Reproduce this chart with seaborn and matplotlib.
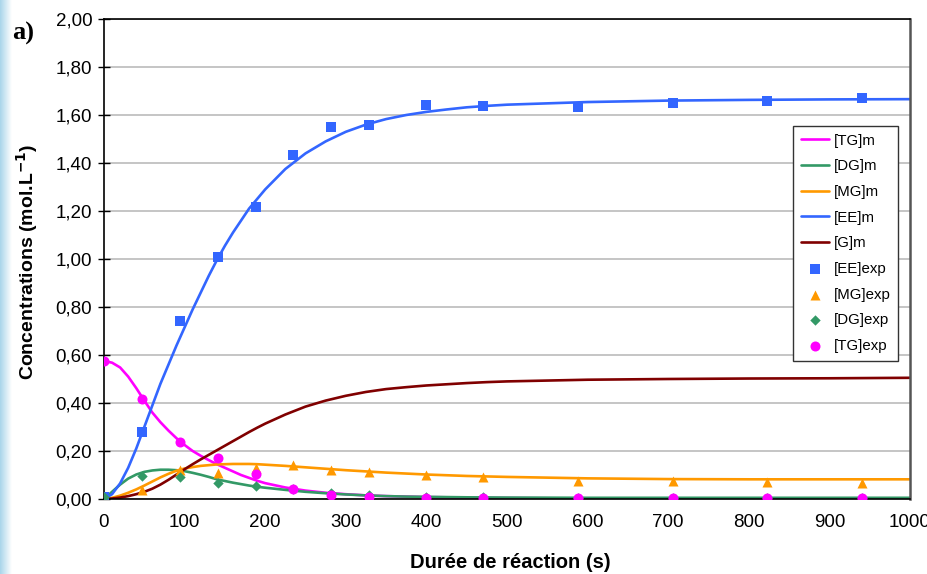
import numpy as np
import pandas as pd
import matplotlib
matplotlib.use("Agg")
import matplotlib.pyplot as plt
import seaborn as sns
from matplotlib.ticker import FuncFormatter, MultipleLocator

# model curves
t_model = [0, 10, 20, 30, 40, 50, 60, 70, 80, 90, 100, 110, 120, 130, 140, 150, 160, 170,
           180, 190, 200, 225, 250, 275, 300, 325, 350, 375, 400, 425, 450, 475, 500,
           600, 700, 800, 900, 1000]
tg_model = [0.575, 0.568, 0.548, 0.51, 0.462, 0.41, 0.36, 0.32, 0.285, 0.253, 0.225, 0.20,
            0.18, 0.162, 0.145, 0.13, 0.115, 0.10, 0.088, 0.076, 0.066, 0.048, 0.035,
            0.026, 0.02, 0.015, 0.012, 0.01, 0.008, 0.007, 0.005, 0.0045, 0.004,
            0.002, 0.001, 0.001, 0.0, 0.0]
dg_model = [0.0, 0.03, 0.06, 0.085, 0.102, 0.113, 0.119, 0.122, 0.122, 0.12, 0.116, 0.109,
            0.101, 0.092, 0.082, 0.075, 0.068, 0.062, 0.056, 0.051, 0.047, 0.038, 0.03,
            0.024, 0.019, 0.015, 0.012, 0.01, 0.009, 0.008, 0.007, 0.0065, 0.006,
            0.005, 0.005, 0.005, 0.005, 0.005]
mg_model = [0.0, 0.005, 0.014, 0.026, 0.04, 0.056, 0.073, 0.09, 0.105, 0.118, 0.127, 0.133,
            0.138, 0.141, 0.144, 0.145, 0.146, 0.146, 0.146, 0.145, 0.143, 0.138, 0.132,
            0.126, 0.12, 0.115, 0.11, 0.106, 0.102, 0.099, 0.096, 0.094, 0.092,
            0.086, 0.083, 0.082, 0.082, 0.082]
ee_model = [0.0, 0.02, 0.065, 0.13, 0.21, 0.30, 0.39, 0.48, 0.56, 0.64, 0.715, 0.79,
            0.86, 0.93, 0.995, 1.055, 1.11, 1.16, 1.21, 1.25, 1.29, 1.375, 1.44,
            1.49, 1.53, 1.56, 1.583, 1.60, 1.613, 1.623, 1.632, 1.638, 1.643,
            1.654, 1.66, 1.663, 1.665, 1.666]
g_model = [0.0, 0.002, 0.006, 0.012, 0.02, 0.03, 0.043, 0.06, 0.08, 0.102, 0.124, 0.145,
           0.165, 0.184, 0.203, 0.222, 0.241, 0.26, 0.279, 0.297, 0.314, 0.352, 0.385,
           0.41, 0.43, 0.446, 0.458, 0.466, 0.473, 0.478, 0.483, 0.487, 0.49,
           0.497, 0.50, 0.502, 0.503, 0.505]

# experimental points
t_exp = [0, 47, 94, 141, 188, 235, 282, 329, 400, 470, 588, 706, 823, 941]
ee_exp = [0.01, 0.28, 0.74, 1.01, 1.215, 1.435, 1.55, 1.56, 1.64, 1.637, 1.635, 1.65, 1.66, 1.67]
mg_exp = [0.0, 0.037, 0.12, 0.107, 0.13, 0.14, 0.12, 0.114, 0.10, 0.093, 0.076, 0.076, 0.071, 0.067]
dg_exp = [0.01, 0.094, 0.093, 0.065, 0.054, 0.04, 0.025, 0.015, 0.01, 0.008, 0.005, 0.005, 0.005, 0.005]
tg_exp = [0.575, 0.415, 0.239, 0.17, 0.104, 0.04, 0.015, 0.01, 0.005, 0.005, 0.003, 0.003, 0.003, 0.003]

C_TG = "#FF00FF"
C_DG = "#339966"
C_MG = "#FF9900"
C_EE = "#3366FF"
C_G = "#800000"

sns.set_style("white")
plt.rcParams["font.family"] = ["Liberation Sans", "DejaVu Sans"]
plt.rcParams["text.color"] = "black"
plt.rcParams["axes.labelcolor"] = "black"
plt.rcParams["xtick.color"] = "black"
plt.rcParams["ytick.color"] = "black"

fig = plt.figure(figsize=(9.28, 5.74), dpi=100)

# light blue strip on the left edge
bg = fig.add_axes([0, 0, 0.012, 1])
grad = np.linspace(0, 1, 50).reshape(1, -1)
bg.imshow(grad, aspect="auto", cmap=matplotlib.colors.LinearSegmentedColormap.from_list(
    "edge", ["#A9D5EA", "#FFFFFF"]), extent=[0, 1, 0, 1])
bg.axis("off")

ax = fig.add_axes([104 / 928, 1 - 499 / 574, (910 - 104) / 928, (499 - 19) / 574])

lines = [("[TG]m", tg_model, C_TG), ("[DG]m", dg_model, C_DG), ("[MG]m", mg_model, C_MG),
         ("[EE]m", ee_model, C_EE), ("[G]m", g_model, C_G)]
for name, vals, col in lines:
    sns.lineplot(x=t_model, y=vals, ax=ax, color=col, linewidth=1.9, label=name)

points = [("[EE]exp", ee_exp, C_EE, "s", 46), ("[MG]exp", mg_exp, C_MG, "^", 52),
          ("[DG]exp", dg_exp, C_DG, "D", 28), ("[TG]exp", tg_exp, C_TG, "o", 52)]
for name, vals, col, mk, sz in points:
    sns.scatterplot(x=t_exp, y=vals, ax=ax, color=col, marker=mk, s=sz,
                    edgecolor=col, linewidth=0, label=name, zorder=3)

ax.set_xlim(0, 1000)
ax.set_ylim(0, 2.0)
ax.xaxis.set_major_locator(MultipleLocator(100))
ax.yaxis.set_major_locator(MultipleLocator(0.2))
ax.yaxis.set_major_formatter(FuncFormatter(lambda v, p: f"{v:.2f}".replace(".", ",")))
ax.yaxis.grid(True, color="#BBBBBB", linewidth=1.2)
ax.set_axisbelow(True)
ax.tick_params(axis="y", direction="inout", length=9, width=1, labelsize=13.5, pad=4, left=True)
ax.tick_params(axis="x", length=0, labelsize=13.5, pad=11)

for side in ["left", "bottom", "top"]:
    ax.spines[side].set_color("black")
    ax.spines[side].set_linewidth(1.2)
ax.spines["right"].set_color("#555555")
ax.spines["right"].set_linewidth(1.8)

ax.set_xlabel("Durée de réaction (s)", fontsize=14.5, fontweight="bold")
ax.xaxis.set_label_coords((510 - 104) / 806, -(553 - 499) / 480)
ax.set_ylabel("Concentrations (mol.L$^{\\mathbf{-1}}$)", fontsize=14, fontweight="bold")
ax.yaxis.set_label_coords(-(104 - 40) / 806, (499 - 262) / 480)

leg = ax.legend(loc="upper right", bbox_to_anchor=((898 - 104) / 806, (499 - 126) / 480),
                borderaxespad=0, fontsize=10.8, frameon=True, fancybox=False,
                edgecolor="#333333", framealpha=1, labelspacing=0.78, handlelength=1.9,
                handletextpad=0.3, borderpad=0.5)
leg.get_frame().set_linewidth(1.0)

fig.text(12 / 928, 1 - 33 / 574, "a)", fontsize=19, fontweight="bold",
         family=["Liberation Serif", "DejaVu Serif"], va="center", ha="left")

fig.savefig("out.png", dpi=100)
